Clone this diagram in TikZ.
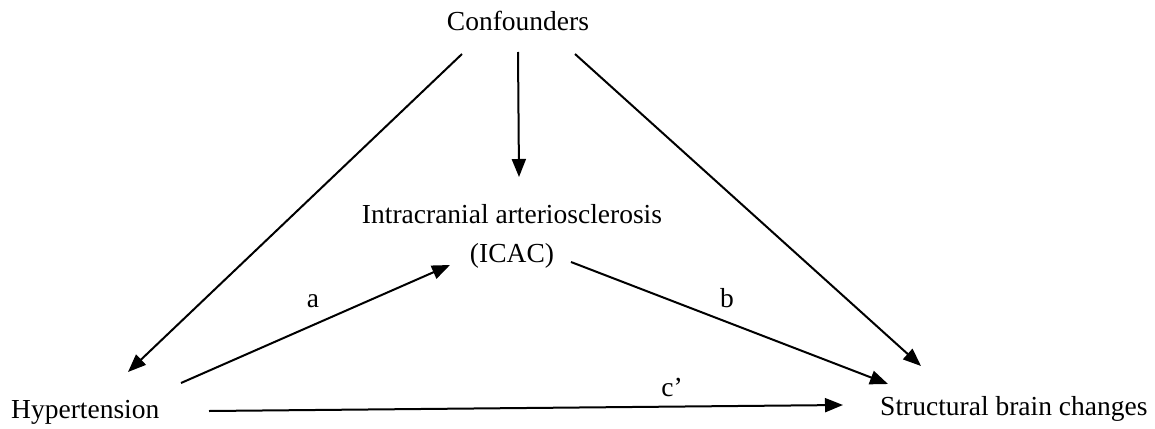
\documentclass[tikz,border=0pt]{standalone}
\usepackage{fontspec}
\setmainfont{Liberation Serif}
\usetikzlibrary{arrows.meta}
\begin{document}
\begin{tikzpicture}[x=1pt,y=-1pt,
  lbl/.style={font=\fontsize{27.5}{33}\selectfont, inner sep=0pt, anchor=base},
  arr/.style={line width=2pt, -{Triangle[length=18pt,width=14pt]}}]
\useasboundingbox (0,0) rectangle (1155,428);
\node[lbl] (conf) at (518,31) {Confounders};
\node[lbl] (icac1) at (512,223) {Intracranial arteriosclerosis};
\node[lbl] (icac2) at (512,262) {(ICAC)};
\node[lbl, anchor=base west] (hyp) at (11,418) {Hypertension};
\node[lbl, anchor=base west] (sbc) at (880,415) {Structural brain changes};
\node[lbl] (la) at (313,307) {a};
\node[lbl] (lb) at (727,307) {b};
\node[lbl] (lc) at (672,396) {c’};
% endpoints
\coordinate (c1) at (462,54);
\coordinate (c2) at (518,52);
\coordinate (c3) at (575,54);
\coordinate (h1) at (128,372);
\coordinate (h2) at (181,383);
\coordinate (h3) at (209,411);
\coordinate (i1) at (519,177);
\coordinate (i2) at (450,265);
\coordinate (i3) at (571,262);
\coordinate (s1) at (921,366);
\coordinate (s2) at (888,384);
\coordinate (s3) at (843,405);
\draw[arr] (c1) -- (h1);
\draw[arr] (c2) -- (i1);
\draw[arr] (c3) -- (s1);
\draw[arr] (h2) -- (i2);
\draw[arr] (i3) -- (s2);
\draw[arr] (h3) -- (s3);
\end{tikzpicture}
\end{document}
